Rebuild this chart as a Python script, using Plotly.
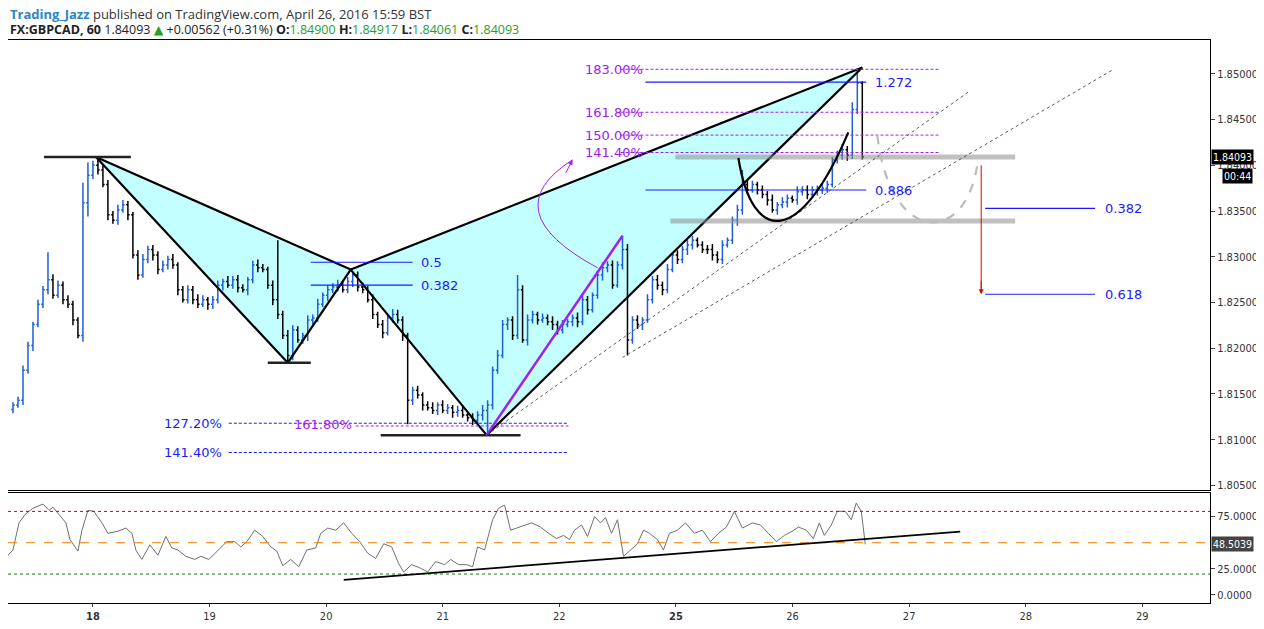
import plotly.graph_objects as go

# hourly bars, GBPCAD 60, Apr 17-26 2016 (bar index = hours from first bar)
closes = [
    1.8138, 1.8143, 1.8176, 1.8203, 1.8226, 1.8248, 1.8264, 1.8275, 1.8258, 1.8269,
    1.8253, 1.8248, 1.8231, 1.8214, 1.8359, 1.8389, 1.8400, 1.8395, 1.8379, 1.8346,
    1.8340, 1.8351, 1.8357, 1.8346, 1.8302, 1.8280, 1.8297, 1.8308, 1.8302, 1.8286,
    1.8291, 1.8297, 1.8291, 1.8264, 1.8253, 1.8264, 1.8253, 1.8248, 1.8253, 1.8248,
    1.8253, 1.8269, 1.8273, 1.8269, 1.8275, 1.8266, 1.8264, 1.8275, 1.8291, 1.8288,
    1.8286, 1.8269, 1.8253, 1.8237, 1.8214, 1.8192, 1.8220, 1.8209, 1.8214, 1.8231,
    1.8233, 1.8248, 1.8258, 1.8264, 1.8267, 1.8269, 1.8264, 1.8273, 1.8280, 1.8267,
    1.8264, 1.8253, 1.8237, 1.8226, 1.8217, 1.8233, 1.8237, 1.8231, 1.8214, 1.8143,
    1.8154, 1.8149, 1.8138, 1.8135, 1.8132, 1.8138, 1.8132, 1.8135, 1.8130, 1.8132,
    1.8127, 1.8124, 1.8121, 1.8127, 1.8132, 1.8138, 1.8176, 1.8192, 1.8226, 1.8231,
    1.8214, 1.8264, 1.8209, 1.8231, 1.8237, 1.8231, 1.8233, 1.8229, 1.8226, 1.8220,
    1.8226, 1.8229, 1.8233, 1.8229, 1.8253, 1.8242, 1.8258, 1.8280, 1.8288, 1.8291,
    1.8269, 1.8291, 1.8308, 1.8209, 1.8231, 1.8226, 1.8231, 1.8253, 1.8275, 1.8269,
    1.8264, 1.8286, 1.8302, 1.8297, 1.8308, 1.8313, 1.8318, 1.8313, 1.8308, 1.8308,
    1.8302, 1.8297, 1.8313, 1.8318, 1.8340, 1.8351, 1.8379, 1.8373, 1.8379, 1.8373,
    1.8368, 1.8362, 1.8351, 1.8357, 1.8360, 1.8364, 1.8362, 1.8371, 1.8373, 1.8368,
    1.8373, 1.8373, 1.8375, 1.8379, 1.8406, 1.8411, 1.8417, 1.8411, 1.8461, 1.8490,
    1.84093,
]
# wick above max(open, close) / below min(open, close), in pips
wick_hi = [
    3, 4, 5, 4, 3, 5, 4, 30, 6, 5,
    4, 5, 4, 3, 22, 14, 5, 9, 6, 5,
    4, 6, 5, 4, 3, 5, 6, 4, 5, 4,
    5, 4, 6, 3, 4, 5, 4, 6, 5, 3,
    4, 5, 3, 6, 4, 5, 4, 3, 5, 6,
    4, 3, 5, 65, 4, 6, 5, 4, 3, 5,
    4, 6, 3, 5, 4, 6, 4, 5, 3, 4,
    5, 4, 6, 3, 5, 4, 6, 5, 4, 3,
    4, 5, 3, 4, 6, 3, 5, 4, 3, 5,
    4, 3, 5, 4, 6, 5, 4, 6, 5, 3,
    4, 16, 5, 6, 4, 3, 5, 4, 6, 4,
    5, 3, 4, 6, 5, 4, 3, 5, 6, 4,
    5, 4, 15, 6, 4, 5, 3, 6, 4, 5,
    4, 6, 3, 5, 4, 6, 5, 3, 4, 5,
    6, 4, 5, 3, 4, 6, 16, 5, 4, 3,
    5, 4, 6, 3, 5, 4, 3, 6, 4, 5,
    4, 5, 6, 4, 3, 5, 6, 4, 8, 13,
    2,
]
wick_lo = [
    4, 3, 5, 4, 6, 3, 4, 5, 4, 3,
    5, 4, 6, 3, 7, 15, 4, 5, 3, 6,
    4, 5, 3, 6, 4, 5, 3, 4, 6, 5,
    3, 5, 4, 6, 3, 4, 5, 4, 3, 6,
    5, 4, 6, 3, 4, 5, 3, 6, 4, 5,
    3, 4, 6, 5, 4, 8, 5, 3, 4, 6,
    5, 4, 3, 6, 4, 5, 3, 4, 6, 5,
    4, 3, 5, 4, 6, 3, 5, 4, 6, 26,
    5, 4, 6, 3, 4, 5, 3, 4, 6, 5,
    3, 4, 5, 4, 6, 27, 5, 4, 3, 6,
    5, 4, 3, 6, 4, 5, 3, 4, 6, 5,
    4, 3, 5, 6, 4, 5, 3, 4, 6, 5,
    4, 3, 5, 17, 4, 5, 6, 3, 4, 5,
    6, 4, 3, 5, 4, 6, 5, 3, 4, 5,
    6, 4, 5, 3, 4, 6, 5, 4, 3, 5,
    4, 6, 3, 5, 4, 6, 3, 5, 4, 5,
    3, 6, 4, 5, 3, 4, 5, 6, 4, 5,
    3,
]

# RSI readings (bar index, value)
rsi_bar = [
    -1.2, 0, 1.2, 2.4, 4, 6, 7.2, 8, 9.2, 10.6, 11.4, 13, 13.8, 15, 16.2, 17.8, 19, 21,
    22.6, 23.8, 24.6, 25.8, 27.4, 29, 30.6, 31.8, 33, 34.6, 36.4, 37.6, 39.2, 41.2, 42.8,
    44.4, 45.6, 46.8, 48.4, 50, 51.6, 52.8, 54, 55.6, 57.2, 58.8, 60.6, 61.6, 63, 64.6,
    66.2, 67.8, 69.4, 71, 72.6, 74.2, 75.8, 77.2, 78.2, 79.8, 81.4, 83, 84.6, 86.4, 87.6,
    89.2, 90.8, 92, 93, 94.4, 96, 97.2, 98.4, 99.6, 101.6, 103.8, 105.6, 107.2, 108.8,
    110.2, 111.4, 112.4, 113.8, 115, 116.4, 117.6, 118.6, 119.8, 121, 122.2, 123.4, 125,
    126.2, 127.4, 129, 130.2, 131.4, 133, 134.6, 136.4, 138, 139.6, 141.2, 142.8, 144.4,
    146, 148, 149.6, 151.2, 152.8, 154.4, 156, 157.2, 158.8, 160.2, 161.4, 162.4, 163.8,
    165, 166.6, 167.8, 168.8, 169.8, 170.6,
]
rsi_val = [
    37, 43, 69, 77, 83, 87, 81, 84, 77, 69, 53, 42, 62, 81, 80, 69, 59, 61,
    64, 59, 43, 34, 48, 38, 56, 45, 43, 37, 34, 37, 34, 43, 51,
    51, 46, 51, 62, 56, 46, 42, 28, 34, 27, 43, 45, 59, 64, 62,
    69, 59, 51, 40, 35, 49, 46, 30, 22, 29, 26, 22, 32, 29, 34,
    29, 29, 27, 46, 43, 72, 83, 86, 62, 65, 69, 65, 59, 54,
    57, 53, 62, 67, 56, 75, 69, 74, 59, 72, 37, 42, 49,
    62, 59, 53, 43, 59, 62, 69, 59, 62, 51, 59, 65, 80,
    64, 69, 67, 59, 51, 57, 61, 65, 62, 54, 69, 57, 67,
    80, 80, 72, 88, 80, 48.5039,
]

day_labels = ["<b>18</b>", "19", "20", "21", "22", "<b>25</b>", "26", "27", "28", "29"]
price_ticks = [1.805, 1.810, 1.815, 1.820, 1.825, 1.830, 1.835, 1.840, 1.845, 1.850]

BLUE = "#1e5fd6"
LBLUE = "#1a1aff"
PURPLE = "#a020f0"
FINE = "3px,2px"

opens = [closes[0] - 0.0005] + closes[:-1]
highs = [max(o, c) + h * 1e-4 for o, c, h in zip(opens, closes, wick_hi)]
lows = [min(o, c) - l * 1e-4 for o, c, l in zip(opens, closes, wick_lo)]
bars = list(range(len(closes)))
day_pos = [16 + 23.34 * i for i in range(len(day_labels))]

fig = go.Figure()
fig.add_trace(go.Ohlc(
    x=bars, open=opens, high=highs, low=lows, close=closes,
    increasing_line_color=BLUE, decreasing_line_color="black",
    line_width=1.5, tickwidth=0.35, hoverinfo="skip", showlegend=False,
))
fig.add_trace(go.Scatter(
    x=rsi_bar, y=rsi_val, mode="lines", line=dict(color="#707070", width=1),
    xaxis="x2", yaxis="y2", hoverinfo="skip", showlegend=False,
))

shapes = []


def seg(x0, y0, x1, y1, color="black", width=2, dash="solid", yref="y", xref="x"):
    shapes.append(dict(type="line", x0=x0, y0=y0, x1=x1, y1=y1, xref=xref, yref=yref,
                       line=dict(color=color, width=width, dash=dash)))


# harmonic pattern X-A-B-C-D
X, A, B, C, D = (16.6, 1.8409), (55, 1.8184), (67.6, 1.8286), (94.8, 1.8105), (170, 1.8507)
for p, q, r in [(X, A, B), (B, C, D)]:
    shapes.append(dict(type="path", xref="x", yref="y", layer="below",
                       path=f"M {p[0]},{p[1]} L {q[0]},{q[1]} L {r[0]},{r[1]} Z",
                       fillcolor="rgba(170,255,255,0.7)", line=dict(width=0)))
for p, q in [(X, A), (A, B), (X, B), (B, C), (C, D), (B, D)]:
    seg(p[0], p[1], q[0], q[1], width=2.2)
seg(6.2, 1.8409, 23.6, 1.8409, color="#222", width=2.5)
seg(51, 1.8184, 59.6, 1.8184, color="#222", width=2.5)
seg(73.6, 1.8105, 101.6, 1.8105, color="#222", width=2.5)

# fib projections
seg(43.2, 1.8118, 111.2, 1.8118, color=LBLUE, width=1, dash=FINE)
seg(43.2, 1.8086, 111.2, 1.8086, color=LBLUE, width=1, dash=FINE)
seg(68.6, 1.8115, 111.2, 1.8115, color=PURPLE, width=1, dash=FINE)
for lv in [1.8505, 1.8458, 1.8433, 1.8414]:
    seg(121.6, lv, 185.6, lv, color=PURPLE, width=1, dash=FINE)
for lv in [1.8491, 1.8373]:
    seg(126.6, lv, 170.8, lv, color=LBLUE, width=1.2)
for lv in [1.8294, 1.8269]:
    seg(59.6, lv, 80, lv, color=LBLUE, width=1.2)
for lv in [1.8353, 1.8259]:
    seg(194.6, lv, 216.6, lv, color=LBLUE, width=1.2)

# support/resistance zones
seg(132.6, 1.8409, 200.6, 1.8409, color="rgba(140,140,140,0.55)", width=5)
seg(131.6, 1.8339, 200.6, 1.8339, color="rgba(140,140,140,0.55)", width=5)

# trend lines
seg(94.8, 1.8105, 122, 1.8323, color=PURPLE, width=2.5)
seg(94.8, 1.8105, 191.2, 1.8480, color="#333", width=0.8, dash="dot")
seg(122, 1.8190, 220, 1.8504, color="#333", width=0.8, dash="dot")

# curves
shapes.append(dict(type="path", xref="x", yref="y",
                   path="M 145.2,1.8408 C 148,1.8312 157.6,1.8312 167.2,1.8436",
                   line=dict(color="black", width=2.2)))
shapes.append(dict(type="path", xref="x", yref="y",
                   path="M 173,1.8433 C 175.6,1.8312 190.6,1.8312 193,1.8400",
                   line=dict(color="#bbbbbb", width=2.2, dash="dash")))
shapes.append(dict(type="path", xref="x", yref="y",
                   path="M 117,1.8288 Q 96,1.8350 112,1.8406",
                   line=dict(color=PURPLE, width=1)))
seg(193.8, 1.8400, 193.8, 1.8265, color="#e00000", width=1)

# RSI pane
seg(-1, 80, 239.6, 80, color="#cc0000", width=1, dash="dot", yref="y2", xref="x2")
seg(-1, 50, 239.6, 50, color="#f08000", width=1, dash="dash", yref="y2", xref="x2")
seg(-1, 20, 239.6, 20, color="#1a7a1a", width=1, dash="dot", yref="y2", xref="x2")
seg(66.2, 14.5, 189.6, 60.7, color="black", width=1.8, yref="y2", xref="x2")

ann = []


def label(x, y, text, color, anchor="left", size=13, yref="y"):
    ann.append(dict(x=x, y=y, text=text, xref="x", yref=yref, showarrow=False,
                    xanchor=anchor, font=dict(color=color, size=size)))


label(42.2, 1.8118, "127.20%", LBLUE, "right")
label(42.2, 1.8086, "141.40%", LBLUE, "right")
label(62, 1.8117, "161.80%", PURPLE, "center")
for lv, t in [(1.8505, "183.00%"), (1.8458, "161.80%"), (1.8433, "150.00%"), (1.8414, "141.40%")]:
    label(126.6, lv, t, PURPLE, "right")
label(172.2, 1.8491, "1.272", LBLUE)
label(172.2, 1.8373, "0.886", LBLUE)
label(81.2, 1.8294, "0.5", LBLUE)
label(81.2, 1.8269, "0.382", LBLUE)
label(218.2, 1.8353, "0.382", LBLUE)
label(218.2, 1.8259, "0.618", LBLUE)

# arrow heads
ann.append(dict(x=112, y=1.8406, ax=110.5, ay=1.8390, xref="x", yref="y", axref="x", ayref="y",
                showarrow=True, arrowhead=2, arrowsize=1, arrowwidth=1, arrowcolor=PURPLE, text=""))
ann.append(dict(x=193.8, y=1.8259, ax=193.8, ay=1.8275, xref="x", yref="y", axref="x", ayref="y",
                showarrow=True, arrowhead=2, arrowsize=1, arrowwidth=1, arrowcolor="#e00000", text=""))

# last value boxes
box_font = dict(family="DejaVu Sans Condensed, DejaVu Sans", color="white", size=10.5)
ann.append(dict(x=1, y=1.84093, xref="paper", yref="y", text="1.84093", showarrow=False,
                xanchor="left", xshift=1, bgcolor="black", borderpad=1, font=box_font))
ann.append(dict(x=1, y=1.8388, xref="paper", yref="y", text="00:44", showarrow=False,
                xanchor="left", xshift=12, bgcolor="black", borderpad=1, font=box_font))
ann.append(dict(x=1, y=48.5, xref="paper", yref="y2", text="48.5039", showarrow=False,
                xanchor="left", xshift=1, bgcolor="#444", borderpad=1, font=box_font))

# header
ann.append(dict(x=0, y=1.0462, xref="paper", yref="paper", xanchor="left", yanchor="middle",
                showarrow=False,
                text="<span style='color:#2a86c8'><b>Trading_Jazz</b></span>"
                     "<span style='color:#333'> published on TradingView.com, April 26, 2016 15:59 BST</span>",
                font=dict(size=13, family="Open Sans, DejaVu Sans")))
G = "#2a9d2a"
ann.append(dict(x=0, y=1.0178, xref="paper", yref="paper", xanchor="left", yanchor="middle",
                showarrow=False,
                text=f"<b>FX:GBPCAD, 60</b> 1.84093 <span style='color:{G}'>▲</span> +0.00562 (+0.31%) "
                     f"<b>O:</b><span style='color:{G}'>1.84900</span> <b>H:</b><span style='color:{G}'>1.84917</span> "
                     f"<b>L:</b><span style='color:{G}'>1.84061</span> <b>C:</b><span style='color:{G}'>1.84093</span>",
                font=dict(size=12.5, color="#222", family="Open Sans, DejaVu Sans")))

axis_font = dict(family="DejaVu Sans Condensed, DejaVu Sans", size=11, color="#333")
fig.update_layout(
    width=1256, height=621,
    margin=dict(l=0, r=54, t=32, b=26, autoexpand=False),
    paper_bgcolor="white", plot_bgcolor="white",
    font=dict(family="DejaVu Sans, Open Sans", size=12),
    shapes=shapes, annotations=ann,
    xaxis=dict(range=[-1, 239.6], domain=[0, 1], anchor="y", rangeslider=dict(visible=False),
               showticklabels=False, showgrid=False, zeroline=False,
               showline=True, mirror=True, linecolor="black", linewidth=1),
    xaxis2=dict(range=[-1, 239.6], domain=[0, 1], anchor="y2", matches="x",
                tickvals=day_pos, ticktext=day_labels, tickfont=axis_font, ticks="outside", ticklen=3,
                showgrid=False, zeroline=False, showline=True, mirror=True, linecolor="black", linewidth=1),
    yaxis=dict(domain=[0.2007, 1], range=[1.8045, 1.8537], side="right",
               tickvals=price_ticks, tickformat=".5f", tickfont=axis_font, ticks="outside", ticklen=4,
               showgrid=False, zeroline=False, showline=True, mirror=True, linecolor="black", linewidth=1),
    yaxis2=dict(domain=[0, 0.1954], range=[-7.7, 97.6], side="right",
                tickvals=[0, 25, 75], tickformat=".4f", tickfont=axis_font, ticks="outside", ticklen=4,
                showgrid=False, zeroline=False, showline=True, mirror=True, linecolor="black", linewidth=1),
)

fig.write_html("out.html")
